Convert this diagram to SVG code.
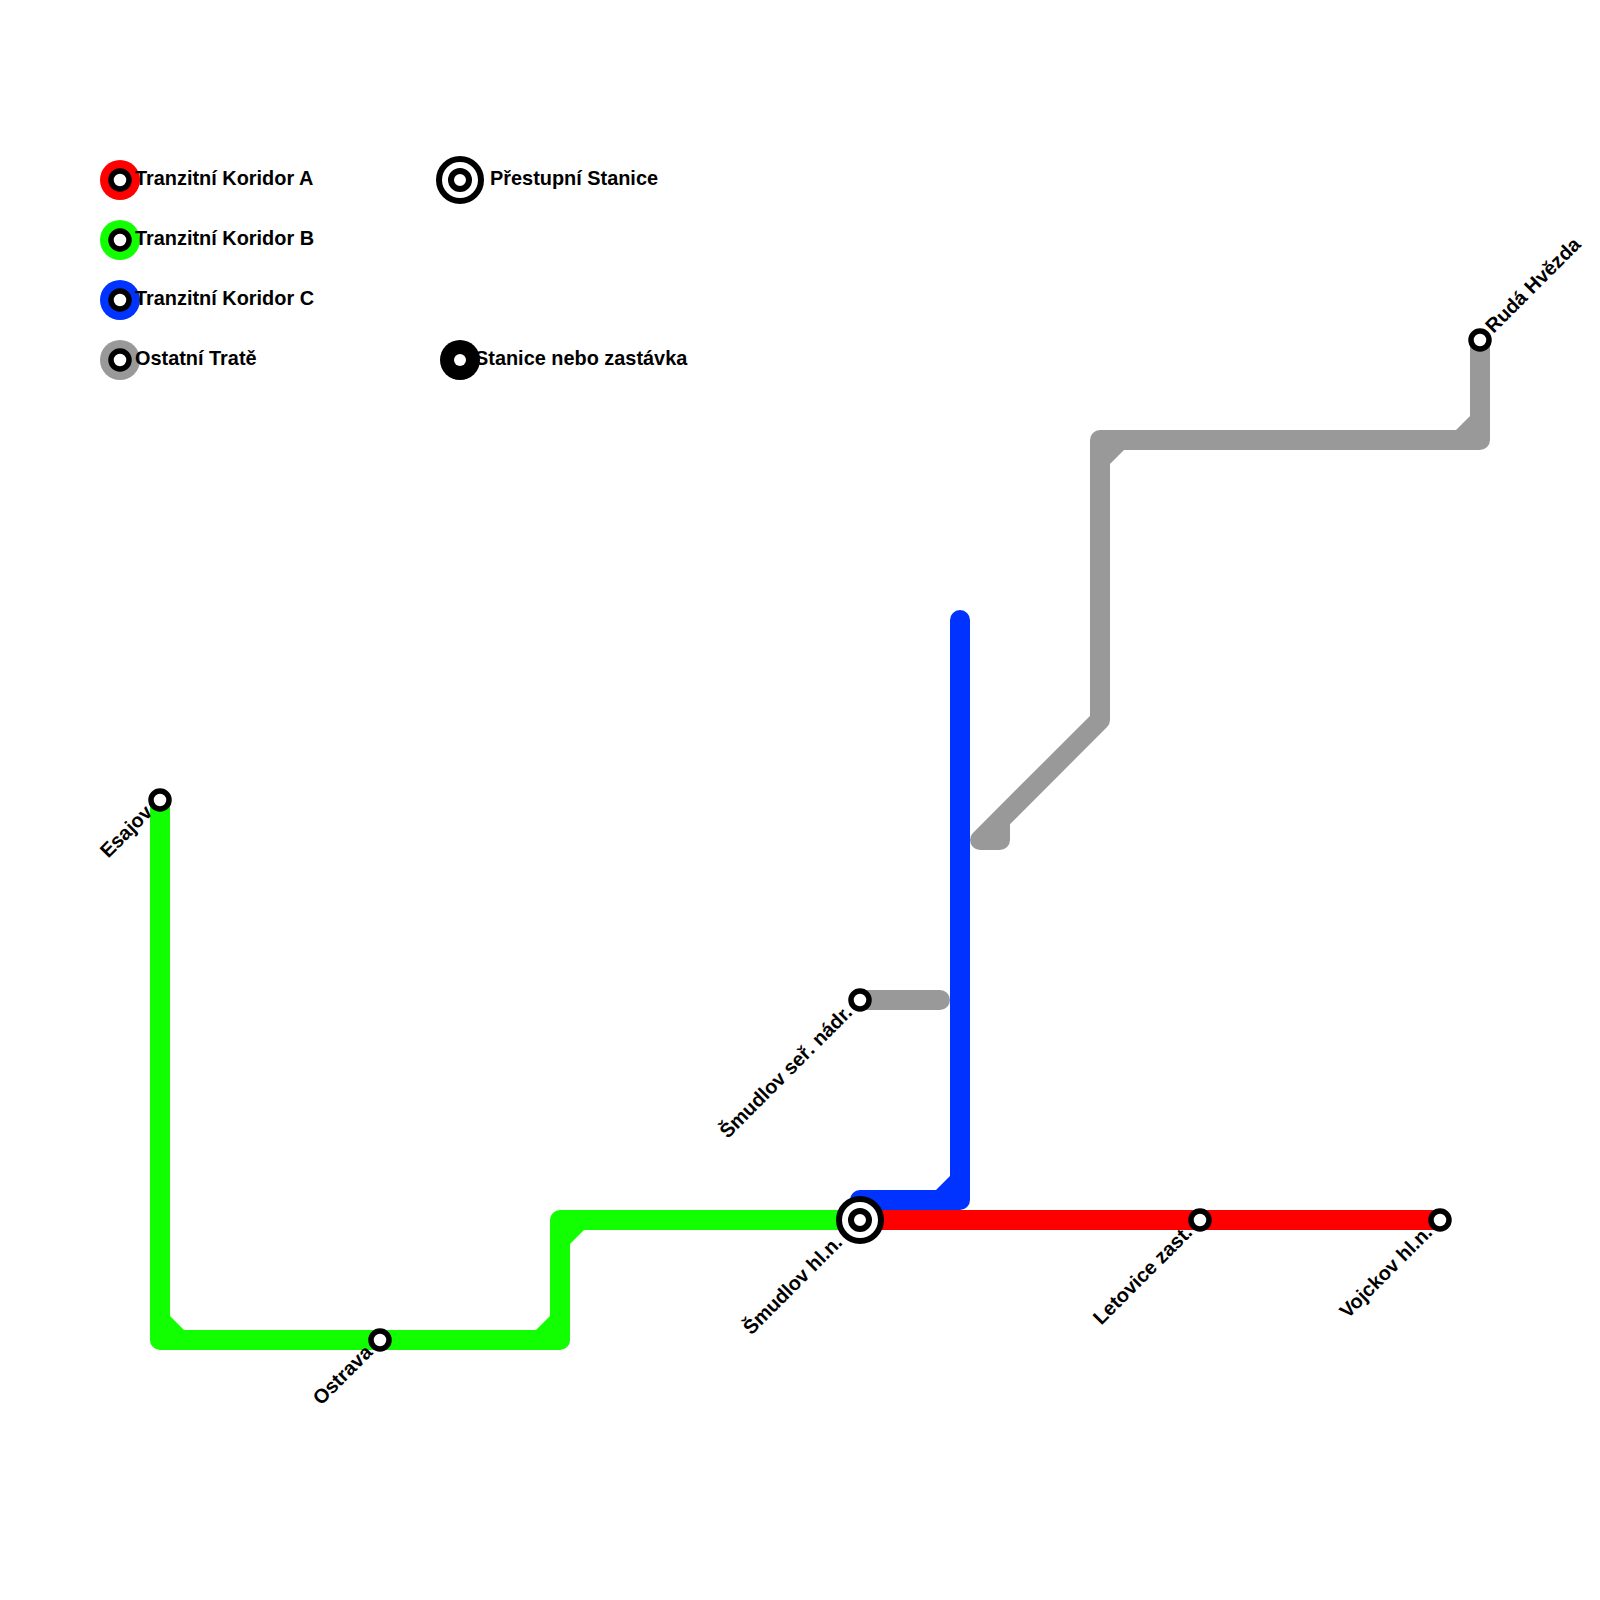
<svg xmlns="http://www.w3.org/2000/svg" width="1600" height="1600" viewBox="0 0 1600 1600">
<style>
.ln{fill:none;stroke-width:20;stroke-linejoin:round;stroke-linecap:round}
.r{stroke:#ff0000}.g{stroke:#11ff00}.b{stroke:#0033ff}.y{stroke:#999999}
.st{fill:#fff;stroke:#000;stroke-width:5.5}
.x{fill:#fff;stroke:#000;stroke-width:6}
.t{font-family:"Liberation Sans",Arial,sans-serif;font-weight:bold;font-size:19.9px;fill:#000}
.e{text-anchor:end}
</style>
<rect width="1600" height="1600" fill="#fff"/>
<g id="connectors">
<path class="ln r" d="M860 1220H1440"/>
<path class="ln g" d="M160 800V1340H560V1220H860"/>
<path class="ln b" d="M960 620V1200H860"/>
<path class="ln y" d="M860 1000H940"/>
<path class="ln y" d="M1480 340V440H1100V720L980 840H1000V820"/>
<polygon fill="#11ff00" points="170,1316 184,1330 170,1330"/>
<polygon fill="#11ff00" points="550,1316 536,1330 550,1330"/>
<polygon fill="#11ff00" points="570,1244 584,1230 570,1230"/>
<polygon fill="#0033ff" points="950,1176 936,1190 950,1190"/>
<polygon fill="#999999" points="1110,464 1124,450 1110,450"/>
<polygon fill="#999999" points="1470,416 1456,430 1470,430"/>
</g>
<g id="legend-a"><circle cx="120" cy="180" r="20" fill="#ff0000"/><circle class="st" cx="120" cy="180" r="9"/><text class="t" x="135" y="185">Tranzitní Koridor A</text></g>
<g id="legend-b"><circle cx="120" cy="240" r="20" fill="#11ff00"/><circle class="st" cx="120" cy="240" r="9"/><text class="t" x="135" y="245">Tranzitní Koridor B</text></g>
<g id="legend-c"><circle cx="120" cy="300" r="20" fill="#0033ff"/><circle class="st" cx="120" cy="300" r="9"/><text class="t" x="135" y="305">Tranzitní Koridor C</text></g>
<g id="legend-o"><circle cx="120" cy="360" r="20" fill="#999999"/><circle class="st" cx="120" cy="360" r="9"/><text class="t" x="135" y="365">Ostatní Tratě</text></g>
<g id="legend-transfer"><circle class="x" cx="460" cy="180" r="21"/><circle class="x" cx="460" cy="180" r="9"/><text class="t" x="490" y="185">Přestupní Stanice</text></g>
<g id="legend-station"><circle cx="460" cy="360" r="20" fill="#000"/><circle cx="460" cy="360" r="6" fill="#fff"/><text class="t" x="475" y="365">Stanice nebo zastávka</text></g>
<g id="station-esajov"><circle class="st" cx="160" cy="800" r="9"/><text class="t e" transform="translate(153.5,813.5) rotate(-45)">Esajov</text></g>
<g id="station-ostrava"><circle class="st" cx="380" cy="1340" r="9"/><text class="t e" transform="translate(373.5,1353.5) rotate(-45)">Ostrava</text></g>
<g id="station-hl"><circle class="x" cx="860" cy="1220" r="21"/><circle class="x" cx="860" cy="1220" r="9"/><text class="t e" transform="translate(843.5,1243.5) rotate(-45)">Šmudlov hl.n.</text></g>
<g id="station-nadr"><circle class="st" cx="860" cy="1000" r="9"/><text class="t e" transform="translate(853.5,1013.5) rotate(-45)">Šmudlov seř. nádr.</text></g>
<g id="station-letovice"><circle class="st" cx="1200" cy="1220" r="9"/><text class="t e" transform="translate(1193.5,1233.5) rotate(-45)">Letovice zast.</text></g>
<g id="station-vojckov"><circle class="st" cx="1440" cy="1220" r="9"/><text class="t e" transform="translate(1433.5,1233.5) rotate(-45)">Vojckov hl.n.</text></g>
<g id="station-ruda"><circle class="st" cx="1480" cy="340" r="9"/><text class="t" transform="translate(1493.5,334) rotate(-45)">Rudá Hvězda</text></g>
</svg>
